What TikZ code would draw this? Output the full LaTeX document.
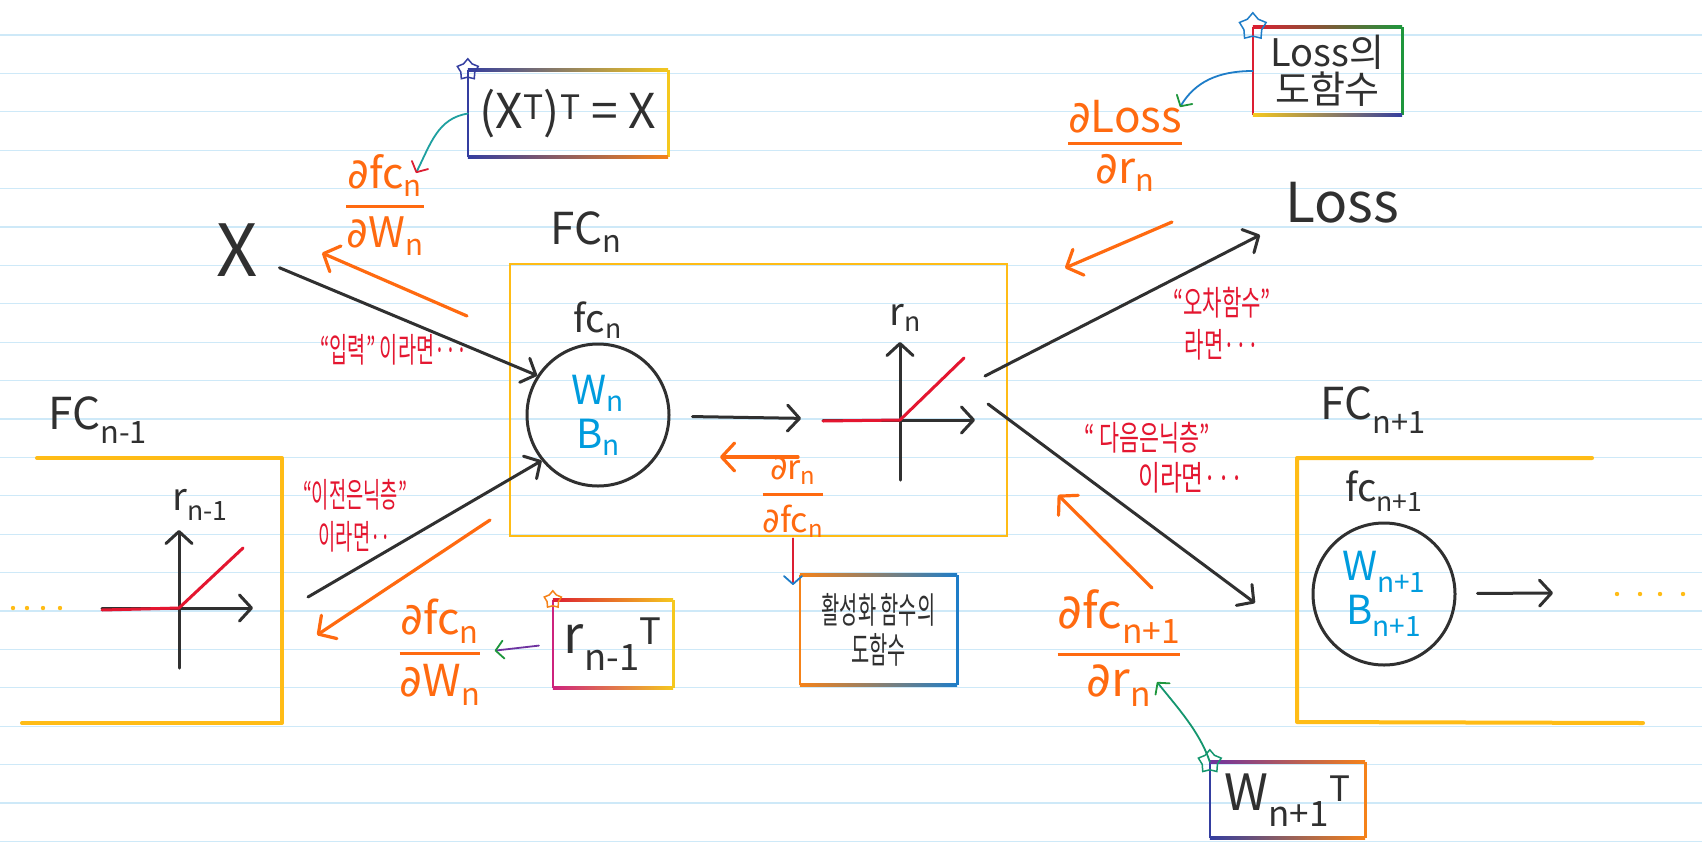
\documentclass[tikz,border=0pt]{standalone}
\usepackage{amsmath}
\usepackage{graphicx}
\usepackage{fontspec}
\setmainfont{Noto Sans CJK KR}
\newfontfamily\pdfont{DejaVu Sans}
\usetikzlibrary{positioning, arrows.meta, shapes.geometric, calc}

\definecolor{penblack}{RGB}{48,48,48}
\definecolor{penorange}{RGB}{255,106,16}
\definecolor{penred}{RGB}{228,22,48}
\definecolor{penblue}{RGB}{0,156,222}
\definecolor{penyellow}{RGB}{255,188,22}
\definecolor{ruleblue}{RGB}{206,233,248}
\definecolor{rbNavy}{RGB}{52,62,160}
\definecolor{rbPurple}{RGB}{110,50,160}
\definecolor{rbMagenta}{RGB}{205,35,125}
\definecolor{rbRed}{RGB}{220,30,50}
\definecolor{rbOrange}{RGB}{245,130,25}
\definecolor{rbYellow}{RGB}{245,200,30}
\definecolor{rbGreen}{RGB}{30,150,60}
\definecolor{rbTeal}{RGB}{30,160,160}
\definecolor{rbBlue}{RGB}{30,125,200}
\definecolor{starGreen}{RGB}{20,150,110}

\newcommand{\narrow}[2][0.72]{\scalebox{#1}[1]{#2}}
\newcommand{\pdiff}{{\pdfont ∂}}
\newcommand{\dfr}[2]{$\genfrac{}{}{3pt}{0}{\text{#1}}{\text{#2}}$}
% frame: node, left, top (3 colours), right, bottom (3 colours)
\newcommand{\rainbowframe}[9]{%
  \fill[#2] ([xshift=-1.3pt]#1.north west) rectangle ([xshift=1.3pt]#1.south west);
  \fill[#6] ([xshift=-1.3pt]#1.north east) rectangle ([xshift=1.3pt]#1.south east);
  \shade[left color=#3, middle color=#4, right color=#5] ([yshift=1.3pt]#1.north west) rectangle ([yshift=-1.3pt]#1.north east);
  \shade[left color=#7, middle color=#8, right color=#9] ([yshift=1.3pt]#1.south west) rectangle ([yshift=-1.3pt]#1.south east);
}

\begin{document}
\begin{tikzpicture}[x=1pt, y=-1pt,
    penline/.style={draw=penblack, line width=3pt, line cap=round, line join=round},
    headed/.style={-{Straight Barb[length=12pt, width=26pt, round]}},
    gradline/.style={draw=penorange, line width=3.2pt, line cap=round, -{Straight Barb[length=13pt, width=28pt, round]}},
    reluline/.style={draw=penred, line width=3pt, line cap=round, line join=round},
    hintline/.style={line width=1.8pt, line cap=round, -{Straight Barb[length=8pt, width=18pt, round, color=#1]}},
    notetext/.style={text=penred, align=center, font=\fontsize{34}{42}\selectfont},
    fracnode/.style={text=penorange, inner sep=1pt}]
	\useasboundingbox (0,0) rectangle (1702,844);
	\fill[white] (0,0) rectangle (1702,844);
	\foreach \k in {0,...,21}
		\draw[ruleblue, line width=1.3pt] (0,{35+38.4*\k}) -- (1702,{35+38.4*\k});

	% layer n
	\node (fcnBox)[rectangle, draw=penyellow, line width=1.5pt, minimum width=497pt, minimum height=272pt] at (758.5,400) {};
	\node (fcnTitle)[font=\fontsize{44}{48}\selectfont, text=penblack] at (586,232) {FC\textsubscript{n}};
	\node (fcn)[circle, penline, minimum size=142pt, inner sep=0pt, align=center, text=penblue, font=\fontsize{40}{44}\selectfont] at (598,415) {W\textsubscript{n}\\B\textsubscript{n}};
	\node (fcnName)[above=0pt of fcn, font=\fontsize{38}{40}\selectfont, text=penblack] {fc\textsubscript{n}};
	\coordinate (reluO) at (900,420);
	\draw[penline, headed, shorten <=22pt, shorten >=99pt] (fcn) -- (reluO);
	\draw[penline, headed] (reluO) ++(-77,0) -- ++(152,0);
	\draw[penline, headed] (reluO) ++(0,60) -- ++(0,-138);
	\draw[reluline] (reluO) ++(-77,1) -- (reluO) -- ++(64,-62);
	\node (rnName)[font=\fontsize{38}{40}\selectfont, text=penblack] at (905,318) {r\textsubscript{n}};

	% input and loss
	\node (xIn)[font=\fontsize{72}{72}\selectfont, text=penblack] at (237,250) {X};
	\draw[penline, headed, shorten <=46pt] (xIn.center) -- (fcn.147);
	\node (loss)[font=\fontsize{55}{55}\selectfont, text=penblack] at (1342,203) {Loss};
	\coordinate (outUp) at (985,376);
	\coordinate (lossIn) at (1260,235);
	\draw[penline, headed] (outUp) -- (lossIn);
	\coordinate (outDown) at (988,404);
	\coordinate (nextIn) at (1255,603);
	\draw[penline, headed] (outDown) -- (nextIn);

	% layer n-1
	\draw[penyellow, line width=4pt, line cap=round, line join=round] (37,458) -- (282,458) -- (282,723) -- (22,723);
	\node (fcPrevTitle)[font=\fontsize{44}{48}\selectfont, text=penblack] at (98,420) {FC\textsubscript{n-1}};
	\coordinate (reluPrevO) at (179,608);
	\draw[penline, headed] (reluPrevO) ++(-77,0) -- ++(151,0);
	\draw[penline, headed] (reluPrevO) ++(0,60) -- ++(0,-138);
	\draw[reluline] (reluPrevO) ++(-77,2) -- (reluPrevO) -- ++(64,-60);
	\node (rPrevName)[font=\fontsize{38}{40}\selectfont, text=penblack] at (200,505) {r\textsubscript{n-1}};
	\foreach \dx in {13,27,43,60}
		\fill[penyellow] (\dx,608) circle (2.2pt);
	\coordinate (prevOut) at (308,597);
	\draw[penline, headed] (prevOut) -- (fcn.219);

	% layer n+1
	\draw[penyellow, line width=4pt, line cap=round, line join=round] (1592,458) -- (1297,458) -- (1297,722) -- (1643,723);
	\node (fcNextTitle)[font=\fontsize{44}{48}\selectfont, text=penblack] at (1373,410) {FC\textsubscript{n+1}};
	\node (fcNext)[circle, penline, minimum size=142pt, inner sep=0pt, align=center, text=penblue, font=\fontsize{40}{44}\selectfont] at (1384,594) {W\textsubscript{n+1}\\B\textsubscript{n+1}};
	\node (fcNextName)[above=6pt of fcNext, font=\fontsize{38}{40}\selectfont, text=penblack] {fc\textsubscript{n+1}};
	\coordinate (nextOut) at (1553,593);
	\draw[penline, headed, shorten <=21pt] (fcNext) -- (nextOut);
	\foreach \dx in {1617,1640,1660,1683}
		\fill[penyellow] (\dx,594) circle (2.2pt);

	% gradients
	\node (gradX)[fracnode, font=\fontsize{42}{42}\selectfont] at (385,205) {\dfr{\pdiff fc\textsubscript{n}}{\pdiff W\textsubscript{n}}};
	\coordinate (gradXa) at (467,316);
	\coordinate (gradXb) at (322,253);
	\draw[gradline] (gradXa) -- (gradXb);
	\node (gradLoss)[fracnode, font=\fontsize{44}{44}\selectfont] at (1125,146) {\dfr{\pdiff Loss}{\pdiff r\textsubscript{n}}};
	\coordinate (gradLossA) at (1172,222);
	\coordinate (gradLossB) at (1065,268);
	\draw[gradline] (gradLossA) -- (gradLossB);
	\node (gradRelu)[fracnode, font=\fontsize{34}{34}\selectfont] at (793,497) {\dfr{\pdiff r\textsubscript{n}}{\pdiff fc\textsubscript{n}}};
	\coordinate (gradReluA) at (798,457);
	\coordinate (gradReluB) at (720,457);
	\draw[gradline] (gradReluA) -- (gradReluB);
	\node (gradNext)[fracnode, font=\fontsize{48}{48}\selectfont] at (1119,648) {\dfr{\pdiff fc\textsubscript{n+1}}{\pdiff r\textsubscript{n}}};
	\coordinate (gradNextA) at (1152,588);
	\coordinate (gradNextB) at (1058,495);
	\draw[gradline] (gradNextA) -- (gradNextB);
	\node (gradPrev)[fracnode, font=\fontsize{44}{44}\selectfont] at (440,652) {\dfr{\pdiff fc\textsubscript{n}}{\pdiff W\textsubscript{n}}};
	\coordinate (gradPrevA) at (490,520);
	\coordinate (gradPrevB) at (317,635);
	\draw[gradline] (gradPrevA) -- (gradPrevB);

	% notes
	\node (inputNote)[notetext] at (394,350) {\narrow[0.58]{“입력” 이라면···}};
	\node (prevNote)[notetext] at (355,516) {\narrow[0.55]{“이전은닉층”}\\\narrow[0.55]{이라면··}};
	\node (lossNote)[notetext] at (1222,324) {\narrow[0.62]{“오차함수”}\\\narrow[0.62]{라면···}};
	\node (nextNote)[notetext] at (1147,438) {\narrow[0.64]{“ 다음은닉층”}};
	\node (nextNoteTail)[notetext] at (1191,478) {\narrow[0.7]{이라면···}};

	% boxes
	\node (xtBox)[minimum width=200pt, minimum height=87pt, font=\fontsize{48}{48}\selectfont, text=penblack] at (568,113.5) {(X\textsuperscript{T})\textsuperscript{T} = X};
	\rainbowframe{xtBox}{rbNavy}{rbNavy}{rbMagenta}{rbYellow}{rbYellow}{rbNavy}{rbMagenta}{rbOrange}
	\coordinate (xtTip) at (416,173);
	\draw[hintline=rbRed, draw=rbTeal] (xtBox.west) .. controls +(-30,5) and +(15,-30) .. (xtTip);
	\node (xtStar)[star, star points=5, draw=rbNavy, line width=1.5pt, minimum size=22pt, inner sep=0pt] at (xtBox.north west) {};

	\node (lossBox)[minimum width=149pt, minimum height=88pt, align=center, font=\fontsize{38}{37}\selectfont, text=penblack] at (1327.5,71) {Loss의\\도함수};
	\rainbowframe{lossBox}{rbRed}{rbRed}{rbYellow}{rbGreen}{rbGreen}{rbYellow}{rbTeal}{rbNavy}
	\coordinate (lossTip) at (1180,107);
	\draw[hintline=rbGreen, draw=rbBlue] (lossBox.west) .. controls +(-35,0) and +(15,-25) .. (lossTip);
	\node (lossStar)[star, star points=5, draw=rbBlue, line width=1.5pt, minimum size=28pt, inner sep=0pt] at (lossBox.north west) {};

	\node (actBox)[minimum width=157pt, minimum height=110pt, align=center, font=\fontsize{36}{40}\selectfont, text=penblack] at (878.5,630) {\narrow[0.55]{활성화 함수의}\\\narrow[0.55]{도함수}};
	\rainbowframe{actBox}{rbOrange}{rbOrange}{rbGreen}{rbBlue}{rbBlue}{rbOrange}{rbGreen}{rbBlue}
	\coordinate (actTip) at (793,585);
	\draw[hintline=rbBlue, draw=rbRed] (gradRelu.south) -- (actTip);

	\node (rtBox)[minimum width=120pt, minimum height=88pt, font=\fontsize{52}{52}\selectfont, text=penblack] at (613,644) {r\textsubscript{n-1}\textsuperscript{T}};
	\rainbowframe{rtBox}{rbMagenta}{rbRed}{rbOrange}{rbYellow}{rbYellow}{rbMagenta}{rbOrange}{rbYellow}
	\draw[hintline=rbGreen, draw=rbPurple, shorten <=14pt, shorten >=12pt] (rtBox.west) -- (gradPrev.east);
	\node (rtStar)[star, star points=5, draw=rbOrange, line width=1.5pt, minimum size=18pt, inner sep=0pt] at (rtBox.north west) {};

	\node (wtBox)[minimum width=155pt, minimum height=76pt, font=\fontsize{50}{50}\selectfont, text=penblack] at (1287.5,800) {W\textsubscript{n+1}\textsuperscript{T}};
	\rainbowframe{wtBox}{rbNavy}{rbPurple}{rbMagenta}{rbOrange}{rbOrange}{rbNavy}{rbMagenta}{rbOrange}
	\coordinate (wtTip) at (1157,682);
	\draw[hintline=rbGreen, draw=starGreen] (wtBox.north west) .. controls +(-10,-30) and +(20,25) .. (wtTip);
	\node (wtStar)[star, star points=5, draw=starGreen, line width=1.5pt, minimum size=24pt, inner sep=0pt] at (wtBox.north west) {};
\end{tikzpicture}
\end{document}
